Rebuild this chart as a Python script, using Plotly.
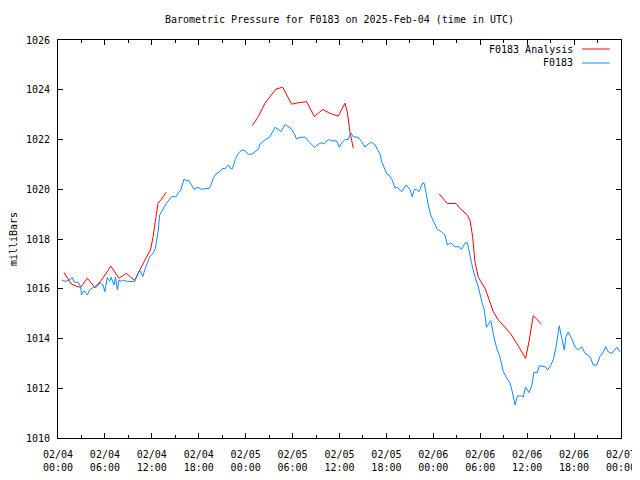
import pandas as pd
import plotly.graph_objects as go

START = "2025-02-04 00:00"

# Observed pressure (hours since 2025-02-04 00:00 UTC, mb)
obs_hours = [0.5, 0.9, 1.5, 1.8, 2.1, 2.6, 2.9, 3.0, 3.3, 3.75, 4.05, 4.5, 4.9, 5.1, 5.4, 5.75, 6.0, 6.3, 6.6, 6.8,
             7.15, 7.35, 7.6, 7.8, 8.1, 8.3, 8.75, 9.8, 10.2, 10.45, 10.85, 11.15, 11.75, 12.15, 12.45, 12.8, 13.0,
             13.45, 13.85, 14.5, 15.1, 15.45, 15.7, 16.1, 16.4, 16.7, 17.0, 17.4, 17.9, 18.3, 19.35, 19.6, 19.85,
             20.2, 20.7, 21.05, 21.35, 21.8, 22.1, 22.3, 22.65, 23.05, 23.5, 23.9, 24.35, 24.75, 25.2, 25.6, 25.85,
             26.45, 27.1, 27.75, 28.15, 28.5, 29.05, 29.45, 29.9, 30.3, 30.5, 30.95, 31.6, 32.0, 32.35, 32.8, 33.15,
             33.65, 34.0, 34.55, 35.0, 35.65, 35.95, 36.3, 36.7, 37.1, 37.45, 37.75, 38.4, 38.85, 39.25, 39.7, 40.1,
             40.55, 40.95, 41.2, 41.4, 41.7, 42.05, 42.35, 42.75, 43.1, 43.4, 43.95, 44.5, 45.0, 45.3, 45.55, 45.85,
             46.15, 46.65, 46.85, 47.05, 47.35, 47.65, 48.0, 48.5, 49.05, 49.5, 49.8, 50.2, 50.75, 51.3, 51.6, 52.05,
             52.35, 52.6, 52.9, 53.3, 53.75, 54.2, 54.5, 54.8, 55.35, 55.65, 56.1, 56.5, 56.95, 57.4, 57.8, 58.1,
             58.45, 58.75, 59.3, 59.5, 59.8, 60.25, 60.6, 60.85, 61.3, 61.55, 62.4, 62.6, 63.0, 63.35, 63.7, 64.1,
             64.4, 64.75, 64.95, 65.25, 65.7, 66.1, 66.55, 66.95, 67.4, 68.05, 68.45, 68.9, 69.3, 69.75, 70.05,
             70.35, 70.8, 71.25, 71.5, 71.85]
obs_values = [1016.35, 1016.3, 1016.35, 1016.46, 1016.26, 1016.26, 1016.08, 1015.75, 1015.92, 1015.75, 1015.95,
              1016.06, 1016.06, 1016.15, 1016.24, 1016.15, 1015.88, 1016.46, 1016.3, 1016.46, 1016.15, 1016.46,
              1015.95, 1016.35, 1016.3, 1016.35, 1016.3, 1016.29, 1016.62, 1016.75, 1016.49, 1016.82, 1017.29,
              1017.42, 1017.62, 1018.29, 1018.96, 1019.23, 1019.43, 1019.7, 1019.7, 1019.88, 1019.97, 1020.4,
              1020.35, 1020.37, 1020.21, 1020.0, 1020.08, 1020.0, 1020.04, 1020.2, 1020.44, 1020.61, 1020.71,
              1020.84, 1020.82, 1020.98, 1020.82, 1020.82, 1021.18, 1021.44, 1021.58, 1021.55, 1021.41, 1021.41,
              1021.51, 1021.6, 1021.82, 1021.98, 1022.11, 1022.49, 1022.41, 1022.31, 1022.61, 1022.52, 1022.41,
              1022.18, 1022.02, 1022.09, 1022.09, 1021.94, 1021.82, 1021.69, 1021.78, 1021.87, 1021.82, 1022.0,
              1021.95, 1021.94, 1021.69, 1021.87, 1022.0, 1022.0, 1022.27, 1022.11, 1022.09, 1021.91, 1021.69,
              1021.82, 1021.89, 1021.78, 1021.55, 1021.38, 1021.11, 1020.84, 1020.61, 1020.57, 1020.37, 1020.04,
              1020.08, 1019.9, 1020.17, 1020.0, 1019.7, 1019.97, 1020.0, 1019.9, 1020.26, 1020.23, 1019.84, 1019.37,
              1018.97, 1018.7, 1018.39, 1018.29, 1018.15, 1017.76, 1017.85, 1017.69, 1017.69, 1017.58, 1017.83,
              1017.85, 1017.42, 1017.02, 1016.49, 1016.08, 1015.48, 1015.17, 1014.45, 1014.72, 1014.21, 1013.61,
              1013.27, 1012.67, 1012.4, 1012.22, 1011.86, 1011.33, 1011.69, 1011.69, 1011.64, 1012.04, 1011.82,
              1012.13, 1012.63, 1012.63, 1012.91, 1012.85, 1012.73, 1012.91, 1013.16, 1013.67, 1014.51, 1014.0,
              1013.54, 1014.07, 1014.25, 1014.0, 1013.67, 1013.54, 1013.67, 1013.41, 1013.27, 1012.93, 1012.93,
              1013.27, 1013.47, 1013.67, 1013.47, 1013.4, 1013.54, 1013.65, 1013.47]

# Analysis pressure (None marks gaps between analysis runs)
ana_hours = [0.77, 1.19, 1.7, 2.34, 2.9, 3.75, 4.48, 4.69, 5.54, 6.74, 7.8, 8.73, 9.81, 10.23, 11.85, 12.15, 12.44,
             12.79, 13.21, 13.85, 19.0,
             24.85, 25.61, 26.47, 27.24, 27.88, 28.73, 29.88, 30.73, 31.8, 32.78, 33.85, 34.78, 35.84, 36.7, 37.0,
             37.34, 37.76, 43.0,
             48.76, 49.78, 50.9, 51.41, 52.26, 52.69, 53.03, 53.32, 53.75, 54.6, 55.15, 55.67, 56.31, 56.74, 57.8,
             58.66, 59.81, 60.27, 60.78, 61.85]
ana_values = [1016.65, 1016.42, 1016.19, 1016.1, 1016.06, 1016.42, 1016.1, 1016.06, 1016.33, 1016.91, 1016.42,
              1016.62, 1016.33, 1016.62, 1017.59, 1018.07, 1018.7, 1019.43, 1019.59, 1019.88, None,
              1022.56, 1022.92, 1023.46, 1023.79, 1024.03, 1024.1, 1023.42, 1023.48, 1023.52, 1022.92, 1023.21,
              1023.05, 1022.94, 1023.46, 1023.1, 1022.31, 1021.65, None,
              1019.81, 1019.43, 1019.43, 1019.23, 1018.99, 1018.76, 1018.09, 1017.09, 1016.46, 1016.02, 1015.55,
              1015.08, 1014.74, 1014.58, 1014.23, 1013.81, 1013.2, 1013.94, 1014.92, 1014.57]

tick_times = ["2025-02-04 00:00", "2025-02-04 06:00", "2025-02-04 12:00", "2025-02-04 18:00",
              "2025-02-05 00:00", "2025-02-05 06:00", "2025-02-05 12:00", "2025-02-05 18:00",
              "2025-02-06 00:00", "2025-02-06 06:00", "2025-02-06 12:00", "2025-02-06 18:00",
              "2025-02-07 00:00"]
tick_labels = ["02/04<br>00:00", "02/04<br>06:00", "02/04<br>12:00", "02/04<br>18:00",
               "02/05<br>00:00", "02/05<br>06:00", "02/05<br>12:00", "02/05<br>18:00",
               "02/06<br>00:00", "02/06<br>06:00", "02/06<br>12:00", "02/06<br>18:00",
               "02/07<br>00:00"]
y_ticks = [1010, 1012, 1014, 1016, 1018, 1020, 1022, 1024, 1026]

RED = "#ff0000"
BLUE = "#1088ff"
FONT = "DejaVu Sans Mono"

t0 = pd.Timestamp(START)
obs_t = [t0 + pd.Timedelta(hours=h) for h in obs_hours]
ana_t = [t0 + pd.Timedelta(hours=h) for h in ana_hours]

fig = go.Figure()
fig.add_trace(go.Scatter(x=ana_t, y=ana_values, mode="lines", name="F0183 Analysis",
                         line=dict(color=RED, width=1), connectgaps=False, showlegend=False))
fig.add_trace(go.Scatter(x=obs_t, y=obs_values, mode="lines", name="F0183",
                         line=dict(color=BLUE, width=1), showlegend=False))

# gnuplot-style legend: text right-aligned, line sample on the right
legend_items = [("F0183 Analysis", RED), ("F0183", BLUE)]
for i, (name, col) in enumerate(legend_items):
    ypix = 9 + 14 * i
    yp = 1 - ypix / 398
    fig.add_annotation(x=0.918, y=yp, xref="paper", yref="paper", text=name, showarrow=False,
                       xanchor="right", yanchor="middle", font=dict(family=FONT, size=10, color="black"))
    fig.add_shape(type="line", xref="paper", yref="paper", x0=0.931, x1=0.98, y0=yp, y1=yp,
                  line=dict(color=col, width=1))

fig.update_layout(
    width=632, height=472,
    margin=dict(l=50, r=19, t=32, b=42, autoexpand=False),
    paper_bgcolor="white", plot_bgcolor="white",
    font=dict(family=FONT, size=10, color="black"),
    title=dict(text="Barometric Pressure for F0183 on 2025-Feb-04 (time in UTC)", x=0.5, xref="paper",
               xanchor="center", y=1 - 11 / 472, yanchor="middle", font=dict(family=FONT, size=10)),
    xaxis=dict(range=[tick_times[0], tick_times[-1]], tickvals=tick_times, ticktext=tick_labels,
               showline=True, linecolor="black", linewidth=1, mirror="ticks", automargin=False,
               ticks="inside", ticklen=5, tickcolor="black", showgrid=False, zeroline=False,
               ticklabelstandoff=7,
               minor=dict(dtick=3 * 3600 * 1000, ticks="inside", ticklen=3, tickcolor="black", showgrid=False),
               tickfont=dict(family=FONT, size=10)),
    yaxis=dict(range=[1010, 1026], tickvals=y_ticks, showline=True, linecolor="black", linewidth=1,
               mirror="ticks", ticks="inside", ticklen=5, tickcolor="black", showgrid=False, zeroline=False,
               ticklabelstandoff=5, automargin=False,
               title=dict(text="milliBars", font=dict(family=FONT, size=10), standoff=12),
               tickfont=dict(family=FONT, size=10)),
)

fig.write_html("out.html")
